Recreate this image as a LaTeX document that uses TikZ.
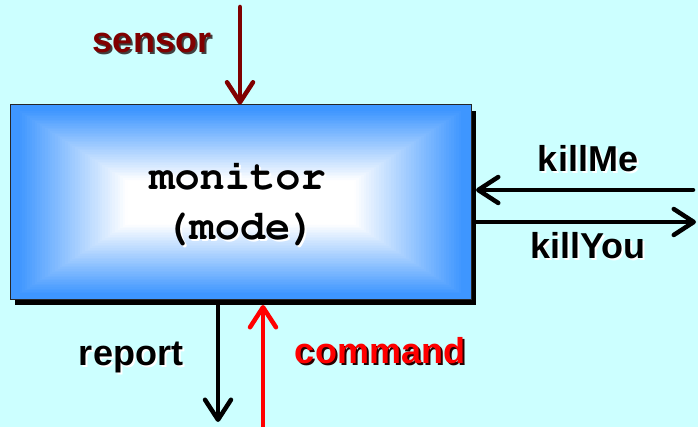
\documentclass[tikz,border=0pt]{standalone}
\usepackage[T1]{fontenc}
\usepackage{fontspec}
\setmainfont{Liberation Sans}
\usetikzlibrary{arrows.meta}

% Courier (URW Nimbus Mono) in bold for the block text
\newcommand{\couriertext}{\fontencoding{T1}\fontfamily{pcr}\fontseries{b}\selectfont}

\definecolor{bgcyan}{RGB}{204,255,255}
\definecolor{boxblue}{RGB}{62,150,255}
\definecolor{darkred}{RGB}{128,0,0}
\definecolor{signalred}{RGB}{255,0,0}

\tikzset{
  label/.style={font=\fontsize{36}{40}\selectfont\bfseries, inner sep=0pt, anchor=base},
  codetext/.style={font=\fontsize{42}{46}\couriertext, inner sep=0pt, anchor=base},
  flow/.style={line width=4.5pt, line cap=round,
    -{Straight Barb[length=20pt,width=26pt,line cap=round,line join=round]}},
}

\begin{document}
\begin{tikzpicture}[x=1pt,y=-1pt]
  % canvas
  \fill[bgcyan] (0,0) rectangle (698,427);
  \useasboundingbox (0,0) rectangle (698,427);

  % drop shadow of the block
  \fill[black] (15,111) rectangle (476,305);

  % bevelled blue-to-white fill of the block
  \foreach \i in {0,...,60}{
    \pgfmathsetmacro{\t}{\i/60}
    \pgfmathsetmacro{\mix}{min(100,max(0,(\t-0.05)/0.72*100))}
    \pgfmathsetmacro{\hx}{10+\t*150}
    \pgfmathsetmacro{\hxr}{471-\t*150}
    \pgfmathsetmacro{\hy}{105+\t*97.5}
    \pgfmathsetmacro{\hyb}{300-\t*97.5}
    \colorlet{stepcol}{white!\mix!boxblue}
    \fill[stepcol] (\hx,\hy) rectangle (\hxr,\hyb);
  }

  % the block outline
  \node (box) [draw=black!85, line width=1pt, minimum width=461pt, minimum height=195pt,
    inner sep=0pt] at (240.5,202.5) {};

  % block text, white shadow underneath
  \node (monS) [codetext, white] at (239.5,192) {monitor};
  \node (mon)  [codetext, black] at (237.5,190) {monitor};
  \node (modeS)[codetext, white] at (242,242) {(mode)};
  \node (mode) [codetext, black] at (240,240) {(mode)};

  % connector ends
  \coordinate (sensorEnd)  at (240,7);
  \coordinate (killMeEnd)  at (693,190);
  \coordinate (killYouEnd) at (696,222);
  \coordinate (reportEnd)  at (218,422);
  \coordinate (commandEnd) at (263,430);
  \coordinate (boxShadowE) at (476,202.5);
  \coordinate (boxShadowS) at (240,305);

  % connectors
  \draw[flow, darkred] (sensorEnd) -- (sensorEnd |- box.north);
  \draw[flow, black] (killMeEnd) -- (killMeEnd -| boxShadowE);
  \draw[flow, black] (killYouEnd -| boxShadowE) -- (killYouEnd);
  \draw[flow, black] (reportEnd |- boxShadowS) -- (reportEnd);
  \draw[flow, signalred] (commandEnd) -- (commandEnd |- boxShadowS);

  % labels with their shadows
  \node (sensorS) [label, black!75] at (154,55) {sensor};
  \node (sensor)  [label, darkred] at (152,53) {sensor};
  \node (killMeS) [label, white] at (590,174) {killMe};
  \node (killMe)  [label, black] at (588,172) {killMe};
  \node (killYouS)[label, white] at (590,261) {killYou};
  \node (killYou) [label, black] at (588,259) {killYou};
  \node (reportS) [label, white] at (133,367) {report};
  \node (report)  [label, black] at (131,365) {report};
  \node (commandS)[label, black!70!darkred] at (382,365) {command};
  \node (command) [label, signalred] at (380,363) {command};
\end{tikzpicture}
\end{document}
